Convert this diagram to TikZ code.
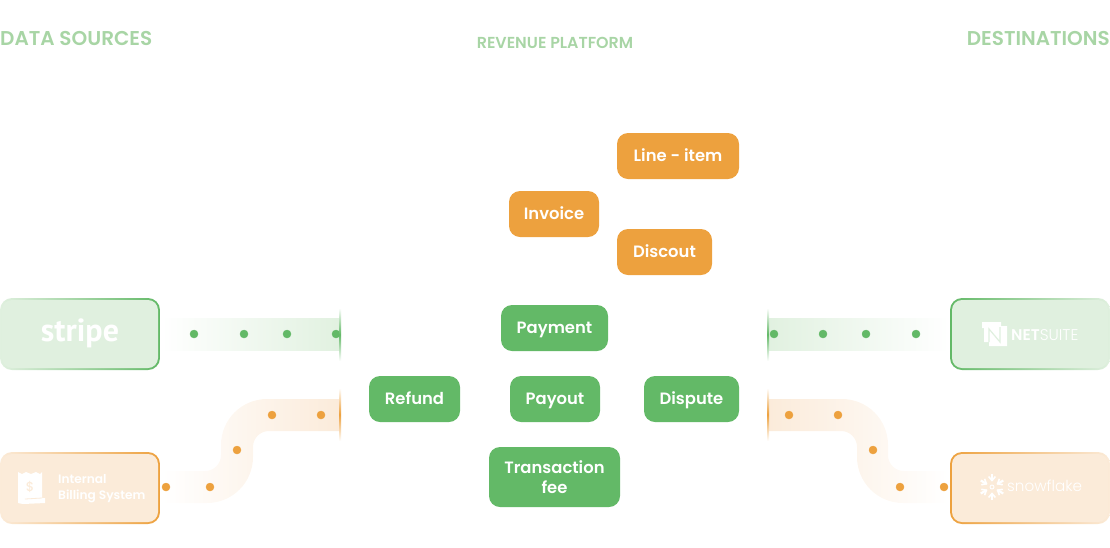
\documentclass[tikz,border=0pt]{standalone}
\usepackage{fontspec}
\setmainfont{Poppins}
\newfontfamily\popmed{Poppins Medium}
\newfontfamily\poplight{Poppins Light}
\newfontfamily\popsemi{Poppins SemiBold}
\newfontfamily\ptbold{PT Sans Bold}
\definecolor{leaf}{HTML}{63B967}
\definecolor{amber}{HTML}{EDA13E}
\definecolor{leafpale}{HTML}{E0F0DF}
\definecolor{amberpale}{HTML}{FBEBD9}
\definecolor{leafband}{HTML}{E1F1E0}
\definecolor{amberband}{HTML}{FBEBDA}
\definecolor{headtext}{HTML}{A8D5A5}
\tikzset{
  chip/.style={rectangle,rounded corners=11pt,text=white,align=center,inner sep=0pt,
    minimum height=46pt,text height=12.5pt,text depth=2.5pt,font=\popsemi\fontsize{16.4}{20}\selectfont},
  chipgreen/.style={chip,fill=leaf},
  chiporange/.style={chip,fill=amber},
  rim/.style={rectangle,rounded corners=12pt,minimum width=160pt,minimum height=72pt,inner sep=0pt},
  plate/.style={rectangle,rounded corners=10pt,minimum width=156pt,minimum height=68pt,inner sep=0pt,text=white},
  heading/.style={text=headtext,inner sep=0pt,font=\popsemi\fontsize{20}{24}\selectfont},
  dotgreen/.style={color=leaf,fill=leaf},
  dotorange/.style={color=amber,fill=amber},
  flakearm/.style={white,line width=2.2pt},
  flaketip/.style={white,line width=1.6pt}
}
\begin{document}
\begin{tikzpicture}[x=1pt,y=-1pt]
\useasboundingbox (0,0) rectangle (1110,547);

% Draw the headings
\node[heading,anchor=west] (sources) at (0,38.5) {DATA SOURCES};
\node[heading,font=\popsemi\fontsize{15.9}{18}\selectfont] (platform) at (555,42.5) {REVENUE PLATFORM};
\node[heading,anchor=east] (destinations) at (1110,38.5) {DESTINATIONS};

% Draw the bands
\shade[left color=white,right color=leafband] (162,318) rectangle (340,350);
\shade[left color=leafband,right color=white] (768,318) rectangle (948,350);
\shade[left color=white,right color=amberband]
  (162,471) [rounded corners=16pt] -- (221,471) [rounded corners=46pt] -- (221,399)
  [sharp corners] -- (340,399) -- (340,431) [rounded corners=16pt] -- (253,431)
  [rounded corners=46pt] -- (253,503) [sharp corners] -- (162,503) -- cycle;
\shade[left color=amberband,right color=white]
  (768,399) [rounded corners=46pt] -- (888,399) [rounded corners=16pt] -- (888,471)
  [sharp corners] -- (948,471) -- (948,503) [rounded corners=46pt] -- (857,503)
  [rounded corners=16pt] -- (857,431) [sharp corners] -- (768,431) -- cycle;

% Draw the dots
\filldraw[dotgreen] (194,334) circle (4);
\filldraw[dotgreen] (244,334) circle (4);
\filldraw[dotgreen] (287,334) circle (4);
\filldraw[dotgreen] (336,334) circle (4);
\filldraw[dotgreen] (774,334) circle (4);
\filldraw[dotgreen] (823,334) circle (4);
\filldraw[dotgreen] (866,334) circle (4);
\filldraw[dotgreen] (916,334) circle (4);
\filldraw[dotorange] (166,487) circle (4);
\filldraw[dotorange] (210,487) circle (4);
\filldraw[dotorange] (237,450) circle (4);
\filldraw[dotorange] (272,415) circle (4);
\filldraw[dotorange] (321,415) circle (4);
\filldraw[dotorange] (789,415) circle (4);
\filldraw[dotorange] (838,415) circle (4);
\filldraw[dotorange] (873,450) circle (4);
\filldraw[dotorange] (900,487) circle (4);
\filldraw[dotorange] (944,487) circle (4);

% Draw the walls
\fill[white] (340,305) rectangle (345,445);
\fill[white] (763,305) rectangle (768,445);
\shade[top color=white,bottom color=white,middle color=leaf] (339,308) rectangle (341,361);
\shade[top color=white,bottom color=white,middle color=amber] (339,388) rectangle (341,441);
\shade[top color=white,bottom color=white,middle color=leaf] (767,308) rectangle (769,361);
\shade[top color=white,bottom color=white,middle color=amber] (767,388) rectangle (769,441);

% Draw the source and destination boxes
\node[rim,left color=leafpale,right color=leaf] (stripe) at (80,334) {};
\node[plate,fill=leafpale] (stripeplate) at (80,334) {};
\node[text=white,inner sep=0pt,font=\ptbold\fontsize{32}{34}\selectfont] (stripename) at (80,333.5) {stripe};
\node[rim,left color=amberpale,right color=amber] (billing) at (80,488) {};
\node[plate,fill=amberpale] (billingplate) at (80,488) {};
\node[anchor=west,text=white,inner sep=0pt,align=left,font=\popsemi\fontsize{12.2}{16}\selectfont]
  (billingname) at (58,488.5) {Internal\\Billing System};
\node[rim,left color=leaf,right color=leafpale] (netsuite) at (1030,334) {};
\node[plate,fill=leafpale] (netsuiteplate) at (1030,334) {};
\node[anchor=west,text=white,inner sep=0pt,font=\fontsize{15.5}{16}\selectfont]
  (netsuitename) at (1011,335) {{\popsemi NET}{\poplight SUITE}};
\node[rim,left color=amber,right color=amberpale] (snowflake) at (1030,488) {};
\node[plate,fill=amberpale] (snowflakeplate) at (1030,488) {};
\node[anchor=west,text=white,inner sep=0pt,font=\poplight\fontsize{15.2}{20}\selectfont]
  (snowflakename) at (1007,486) {snowflake};

% Draw the receipt icon
\fill[white] (18,472) -- (22,474) -- (26,472) -- (31,474) -- (36,472) -- (40,474) -- (42,472)
  -- (42,498) -- (45,498) -- (45,503) -- (23,504) -- (18,503) -- cycle;
\node[text=amberpale,inner sep=0pt,font=\popmed\fontsize{13}{14}\selectfont] (dollar) at (30,487) {\$};
\draw[amberpale,line width=.8pt] (25,499) -- (42,498);

% Draw the netsuite icon
\fill[white] (982,322) -- (1001,322) -- (1001,326) -- (1007,326) -- (1007,346) -- (989,346)
  -- (989,342) -- (984,342) -- (984,328) -- (982,328) -- cycle;
\draw[leafpale,line width=1.2pt] (989,342) -- (989,329) -- (1000,342) -- (1000,327);

% Draw the snowflake icon
\begin{scope}[shift={(992,487)}]
\draw[flakearm] (30:6) -- (30:13);
\draw[flakearm] (90:6) -- (90:13);
\draw[flakearm] (150:6) -- (150:13);
\draw[flakearm] (210:6) -- (210:13);
\draw[flakearm] (270:6) -- (270:13);
\draw[flakearm] (330:6) -- (330:13);
\draw[flaketip] (12:11) -- (30:6.5) -- (48:11);
\draw[flaketip] (72:11) -- (90:6.5) -- (108:11);
\draw[flaketip] (132:11) -- (150:6.5) -- (168:11);
\draw[flaketip] (192:11) -- (210:6.5) -- (228:11);
\draw[flaketip] (252:11) -- (270:6.5) -- (288:11);
\draw[flaketip] (312:11) -- (330:6.5) -- (348:11);
\draw[white,line width=.9pt] (0,0) circle (2);
\end{scope}

% Draw the chips
\node[chiporange,minimum width=122pt] (lineitem) at (678,156) {Line - item};
\node[chiporange,minimum width=90pt] (invoice) at (554,214) {Invoice};
\node[chiporange,minimum width=95pt] (discout) at (664.5,252) {Discout};
\node[chipgreen,minimum width=107pt] (payment) at (554.5,328) {Payment};
\node[chipgreen,minimum width=91pt] (refund) at (414.5,399) {Refund};
\node[chipgreen,minimum width=90pt] (payout) at (555,399) {Payout};
\node[chipgreen,minimum width=95pt] (dispute) at (691.5,399) {Dispute};
\node[chipgreen,minimum width=131pt,minimum height=60pt,text height=,text depth=] (fee) at (554.5,477) {Transaction\\fee};

\end{tikzpicture}
\end{document}
